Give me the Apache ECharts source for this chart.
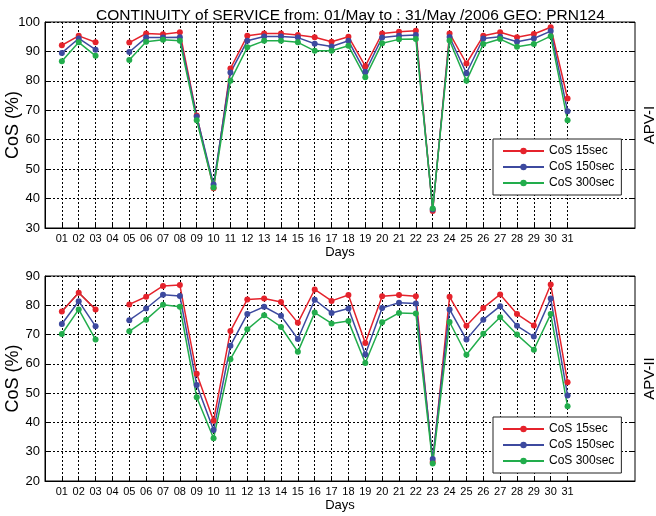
<!DOCTYPE html>
<html>
<head>
<meta charset="utf-8">
<script src="https://cdn.jsdelivr.net/npm/echarts@6/dist/echarts.min.js"></script>
<style>html,body{margin:0;padding:0;background:#fff}#c{width:656px;height:516px}</style>
</head>
<body>
<div id="c"></div>
<script>
const days = [1,2,3,4,5,6,7,8,9,10,11,12,13,14,15,16,17,18,19,20,21,22,23,24,25,26,27,28,29,30,31];
const dayLabels = ['01','02','03','04','05','06','07','08','09','10','11','12','13','14','15','16','17','18','19','20','21','22','23','24','25','26','27','28','29','30','31'];
const seriesNames = ['CoS 15sec','CoS 150sec','CoS 300sec'];
const yTicksI = [30,40,50,60,70,80,90,100];
const yTicksII = [20,30,40,50,60,70,80,90];

// APV-I
const cos15_I  = [92.1,95.3,93.1,null,93.0,96.1,95.8,96.5,68.2,43.5,84.2,95.3,96.1,96.1,95.6,94.8,93.3,95.0,85.0,96.1,96.7,97.0,35.8,96.1,85.9,95.3,96.5,94.8,95.9,98.2,74.0];
const cos150_I = [89.5,94.4,90.6,null,89.8,94.7,94.7,94.8,67.9,44.8,82.8,93.6,95.1,95.1,94.7,92.6,91.7,93.6,83.0,94.7,95.3,95.6,36.3,94.9,82.6,94.4,95.0,93.3,94.4,96.9,69.7];
const cos300_I = [86.7,93.1,88.5,null,87.1,93.3,94.0,93.6,66.6,43.8,80.0,91.4,93.6,93.6,93.1,90.2,90.2,91.9,81.2,92.8,94.1,94.2,36.6,93.7,80.0,92.5,94.2,91.6,92.5,95.2,66.6];
// APV-II
const cos15_II  = [77.9,84.3,78.6,null,80.3,82.9,86.6,86.9,56.6,40.6,71.2,82.0,82.3,81.1,74.0,85.4,81.5,83.5,67.1,83.1,83.5,83.1,26.5,82.9,73.0,79.1,83.7,77.0,73.1,87.1,53.7];
const cos150_II = [73.6,81.4,72.8,null,74.9,78.9,83.6,83.2,52.8,37.4,66.2,77.0,79.5,76.4,68.5,81.9,77.4,78.9,63.2,79.1,80.9,80.6,27.5,78.6,68.3,75.1,79.7,73.0,69.3,82.3,49.2];
const cos300_II = [70.2,78.6,68.3,null,71.1,75.1,80.2,79.5,48.6,34.6,61.6,71.8,76.6,72.6,64.1,77.5,73.8,74.6,60.3,74.2,77.4,77.2,26.0,74.3,63.1,70.3,75.9,70.0,64.8,77.0,45.5];

const FONT = '"Liberation Sans", Arial, Helvetica, sans-serif';
const colors = ['#e5232c', '#3d4a9f', '#22ad4c'];
const pairs = arr => days.map((d, i) => [d, arr[i]]);
const gridDash = {color: '#000', width: 1, type: [2, 2]};

function xAxis(gi) {
  return {
    type: 'value', gridIndex: gi, min: 0, max: 35, interval: 1,
    axisLine: {show: true, lineStyle: {color: '#000', width: 1}},
    axisTick: {show: true, inside: true, length: 4, customValues: days, lineStyle: {color: '#000'}},
    axisLabel: {customValues: days, fontSize: 11, color: '#000', margin: 5, fontFamily: FONT,
      formatter: v => { const k = days.indexOf(v); return k >= 0 ? dayLabels[k] : ''; }},
    splitLine: {show: true, customValues: days, lineStyle: gridDash},
    name: 'Days', nameLocation: 'middle', nameGap: 18, nameMoveOverlap: false,
    nameTextStyle: {fontSize: 13, color: '#000', fontFamily: FONT}
  };
}
function yAxisL(gi, ticks) {
  return {
    type: 'value', gridIndex: gi, min: ticks[0], max: ticks[ticks.length - 1], interval: 10,
    axisLine: {show: true, lineStyle: {color: '#000', width: 1}},
    axisTick: {show: true, inside: true, length: 4, lineStyle: {color: '#000'}},
    axisLabel: {fontSize: 13, color: '#000', margin: 5, fontFamily: FONT},
    splitLine: {show: true, lineStyle: gridDash},
    name: 'CoS (%)', nameLocation: 'middle', nameGap: 23, nameRotate: 90, nameMoveOverlap: false,
    nameTextStyle: {fontSize: 18, color: '#000', fontFamily: FONT}
  };
}
function yAxisR(gi, ticks, label) {
  return {
    type: 'value', gridIndex: gi, position: 'right', min: ticks[0], max: ticks[ticks.length - 1], interval: 10,
    axisLine: {show: false},
    axisTick: {show: true, inside: true, length: 4, lineStyle: {color: '#000'}},
    axisLabel: {show: false},
    splitLine: {show: false},
    name: label, nameLocation: 'middle', nameGap: 7, nameRotate: 90, nameMoveOverlap: false,
    nameTextStyle: {fontSize: 15, color: '#000', fontFamily: FONT}
  };
}
function line(name, arr, xi, yi, color) {
  return {
    name, type: 'line', xAxisIndex: xi, yAxisIndex: yi, data: pairs(arr),
    symbol: 'circle', symbolSize: 6, connectNulls: false,
    itemStyle: {color}, lineStyle: {color, width: 1.5}, emphasis: {disabled: true}
  };
}
function legend(top) {
  return {
    data: seriesNames, orient: 'vertical', left: 493, top, itemWidth: 41, itemHeight: 8, itemGap: 4,
    padding: [6, 7, 6, 9], borderColor: '#222', borderWidth: 1, backgroundColor: '#fff', borderRadius: 0,
    textStyle: {fontSize: 12, color: '#000', fontFamily: FONT}, selectedMode: false
  };
}

const chart = echarts.init(document.getElementById('c'), null, {renderer: 'canvas'});
chart.setOption({
  animation: false,
  backgroundColor: '#fff',
  title: {text: 'CONTINUITY of SERVICE from: 01/May to : 31/May /2006 GEO: PRN124', left: 91, top: 3,
    textStyle: {fontSize: 15.5, fontWeight: 'normal', color: '#000', fontFamily: FONT}},
  grid: [
    {left: 45, right: 21, top: 22, height: 206, show: true, borderColor: '#000', borderWidth: 1,
      backgroundColor: 'transparent', containLabel: false, outerBoundsMode: 'none'},
    {left: 45, right: 21, top: 276, height: 205, show: true, borderColor: '#000', borderWidth: 1,
      backgroundColor: 'transparent', containLabel: false, outerBoundsMode: 'none'}
  ],
  xAxis: [xAxis(0), xAxis(1)],
  yAxis: [yAxisL(0, yTicksI), yAxisL(1, yTicksII), yAxisR(0, yTicksI, 'APV-I'), yAxisR(1, yTicksII, 'APV-II')],
  legend: [legend(139), legend(417)],
  series: [
    line(seriesNames[0], cos15_I, 0, 0, colors[0]),
    line(seriesNames[1], cos150_I, 0, 0, colors[1]),
    line(seriesNames[2], cos300_I, 0, 0, colors[2]),
    line(seriesNames[0], cos15_II, 1, 1, colors[0]),
    {name: 'segment', type: 'line', xAxisIndex: 1, yAxisIndex: 1, data: pairs(cos15_II).slice(0, 3),
      symbol: 'none', lineStyle: {color: '#111', width: 1.2}, z: 2, emphasis: {disabled: true}},
    line(seriesNames[1], cos150_II, 1, 1, colors[1]),
    line(seriesNames[2], cos300_II, 1, 1, colors[2])
  ]
});
</script>
</body>
</html>
